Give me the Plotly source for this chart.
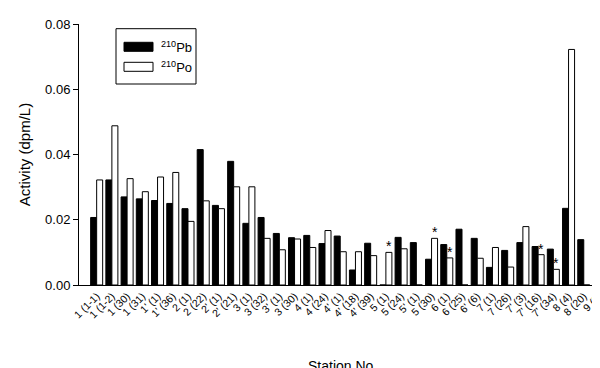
import plotly.graph_objects as go

stations = ["1 (1-1)", "1 (1-2)", "1 (30)", "1 (31)", "1' (1)", "1' (36)", "2 (1)", "2 (22)",
            "2' (1)", "2' (21)", "3 (1)", "3 (32)", "3' (1)", "3 (30)", "4 (1)", "4 (24)",
            "4' (1)", "4' (18)", "4' (39)", "5 (1)", "5 (24)", "5' (1)", "5 (30)", "6 (1)",
            "6 (25)", "6' (6)", "7 (1)", "7 (26)", "7' (3)", "7' (16)", "7' (34)", "8 (4)",
            "8 (20)", "9 (8)"]

pb210 = [0.0207, 0.0322, 0.0270, 0.0264, 0.0259, 0.0250, 0.0234, 0.0415,
         0.0244, 0.0379, 0.0189, 0.0207, 0.0158, 0.0145, 0.0152, 0.0127,
         0.0150, 0.0046, 0.0128, 0.0, 0.0146, 0.0130, 0.0079, 0.0124,
         0.0171, 0.0143, 0.0054, 0.0106, 0.0130, 0.0118, 0.0110, 0.0235,
         0.0139, 0.0320]

po210 = [0.0322, 0.0488, 0.0326, 0.0286, 0.0331, 0.0345, 0.0195, 0.0258,
         0.0234, 0.0301, 0.0301, 0.0143, 0.0108, 0.0141, 0.0115, 0.0167,
         0.0102, 0.0102, 0.0090, 0.0100, 0.0111, 0.0, 0.0143, 0.0083,
         0.0, 0.0082, 0.0115, 0.0055, 0.0179, 0.0093, 0.0048, 0.0722,
         0.0, 0.0316]

starred = ["5 (1)", "5 (30)", "6 (1)", "7' (16)", "7' (34)", "9 (8)"]

idx = list(range(len(stations)))
bargap = 0.21
bar_w = (1 - bargap) / 2

fig = go.Figure()
fig.add_trace(go.Bar(x=idx, y=pb210, name="<sup>210</sup>Pb",
                     marker=dict(color="black", line=dict(color="black", width=1))))
fig.add_trace(go.Bar(x=idx, y=po210, name="<sup>210</sup>Po",
                     marker=dict(color="white", line=dict(color="black", width=1))))

for s in starred:
    i = stations.index(s)
    fig.add_annotation(x=i + bar_w / 2, y=po210[i], text="*", showarrow=False,
                       xref="x", yref="y", yanchor="bottom", yshift=-4,
                       font=dict(family="Liberation Sans, Arial", size=14, color="black"))

# legend (drawn manually to match the wide swatches)
fig.add_shape(type="rect", xref="paper", yref="paper",
              x0=(108 - 71) / 527, x1=(188 - 71) / 527,
              y0=(277 - 76) / 261, y1=(277 - 20.7) / 261,
              line=dict(color="black", width=1), fillcolor="white")
fig.add_shape(type="rect", xref="paper", yref="paper",
              x0=(116 - 71) / 527, x1=(145 - 71) / 527,
              y0=(277 - 43.3) / 261, y1=(277 - 34.3) / 261,
              line=dict(color="black", width=1), fillcolor="black")
fig.add_shape(type="rect", xref="paper", yref="paper",
              x0=(116 - 71) / 527, x1=(145 - 71) / 527,
              y0=(277 - 63.3) / 261, y1=(277 - 54.3) / 261,
              line=dict(color="black", width=1), fillcolor="white")
for name, yc in [("<sup>210</sup>Pb", 39), ("<sup>210</sup>Po", 59)]:
    fig.add_annotation(x=(151 - 71) / 527, y=(277 - yc) / 261, xref="paper", yref="paper",
                       text=name, showarrow=False, xanchor="left", yanchor="middle",
                       font=dict(family="Liberation Sans, Arial", size=13, color="black"))

# x-axis title
fig.add_annotation(x=0.5, y=0, xref="paper", yref="paper", yshift=-81,
                   text="Station No.", showarrow=False, xanchor="center", yanchor="middle",
                   font=dict(family="Liberation Sans, Arial", size=14, color="black"))

fig.update_layout(
    width=600, height=368,
    margin=dict(l=71, r=2, t=16, b=91),
    paper_bgcolor="white", plot_bgcolor="white",
    barmode="group", bargap=bargap, bargroupgap=0,
    showlegend=False,
    font=dict(family="Liberation Sans, Arial", color="black"),
    xaxis=dict(range=[-1.16, 33.46], tickmode="array", tickvals=idx, ticktext=stations,
               tickangle=-45, tickfont=dict(size=10.5), showline=True, linecolor="black",
               linewidth=1, ticks="", showgrid=False, zeroline=False),
    yaxis=dict(range=[0, 0.08], dtick=0.02, tickformat=".2f", ticks="outside", ticklen=5,
               tickcolor="black", showline=True, linecolor="black", linewidth=1,
               showgrid=False, zeroline=False, tickfont=dict(size=13),
               title=dict(text="Activity (dpm/L)", font=dict(size=15), standoff=10)),
)

fig.write_html("out.html")
